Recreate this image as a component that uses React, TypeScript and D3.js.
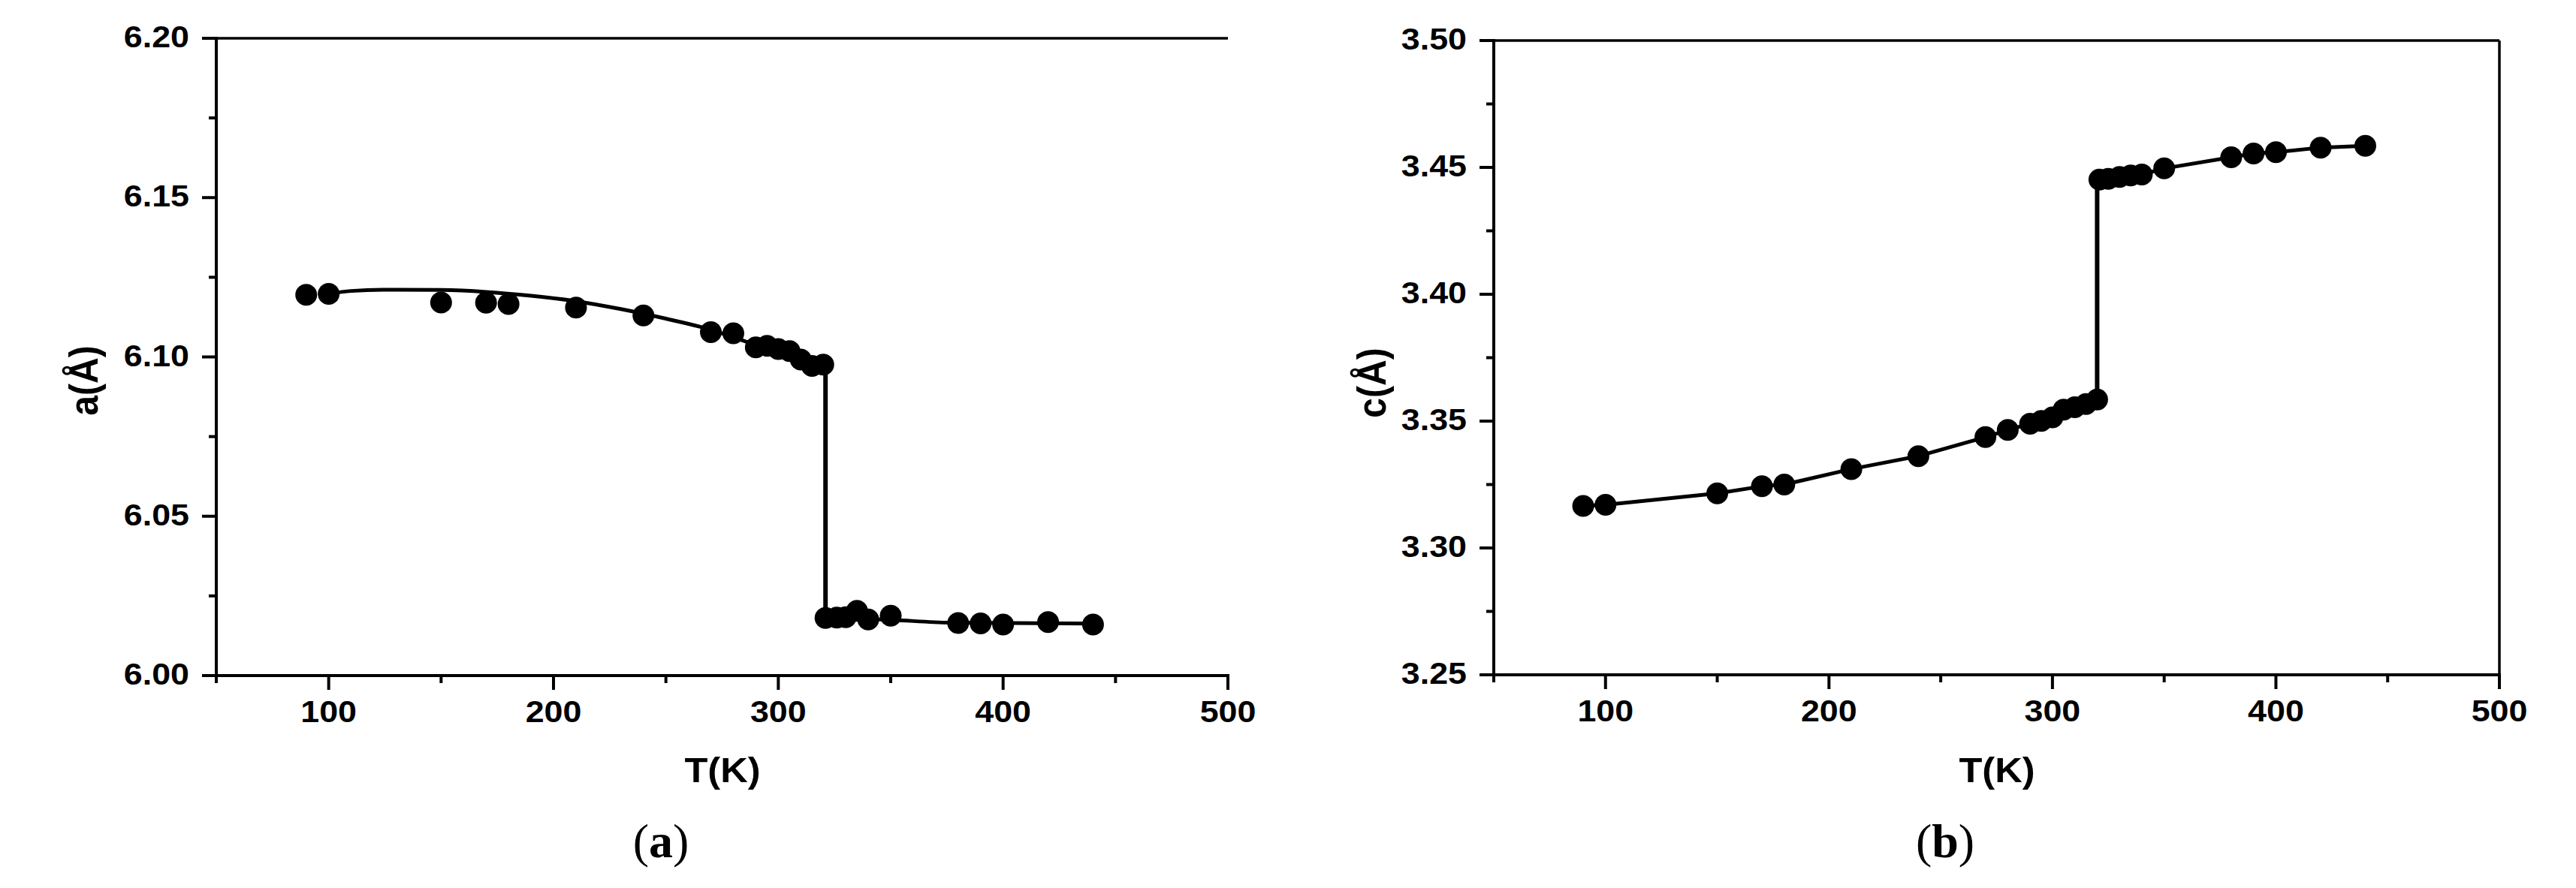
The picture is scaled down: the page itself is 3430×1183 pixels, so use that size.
import React from "react";
import * as d3 from "d3";

const W = 3430;
const H = 1183;

// ---------- shared axis data ----------
const xDomain = [50, 500];
const xTicks = [100, 200, 300, 400, 500];
const xMinorTicks = [50, 150, 250, 350, 450];

// ---------- panel (a): lattice parameter a ----------
const aDomain = [6.0, 6.2];
const aTicks = [6.0, 6.05, 6.1, 6.15, 6.2];
const aMinorTicks = [6.025, 6.075, 6.125, 6.175];
const aLowTempT = [90, 100, 150, 170, 180, 210, 240, 270, 280, 290, 295, 300, 305, 310, 315, 320];
const aLowTempV = [6.1195, 6.1198, 6.1171, 6.1170, 6.1166, 6.1155, 6.1130, 6.1078, 6.1074, 6.1030, 6.1035, 6.1025, 6.1018, 6.0992, 6.0972, 6.0976];
const aHighTempT = [321, 326, 330, 335, 340, 350, 380, 390, 400, 420, 440];
const aHighTempV = [6.0181, 6.0182, 6.0183, 6.0203, 6.0176, 6.0188, 6.0165, 6.0164, 6.0160, 6.0168, 6.0160];
const aFitLowT = [100, 110, 130, 150, 170, 190, 210, 230, 250, 265, 280, 295, 310, 321];
const aFitLowV = [6.1198, 6.1207, 6.1211, 6.1210, 6.1204, 6.1192, 6.1175, 6.1150, 6.1120, 6.1095, 6.1062, 6.1024, 6.0990, 6.0972];
const aFitHighT = [321, 350, 376, 440];
const aFitHighV = [6.0182, 6.0175, 6.0166, 6.0163];

// ---------- panel (b): lattice parameter c ----------
const cDomain = [3.25, 3.5];
const cTicks = [3.25, 3.3, 3.35, 3.4, 3.45, 3.5];
const cMinorTicks = [3.275, 3.325, 3.375, 3.425, 3.475];
const cLowTempT = [90, 100, 150, 170, 180, 210, 240, 270, 280, 290, 295, 300, 305, 310, 315, 320];
const cLowTempV = [3.3166, 3.3170, 3.3215, 3.3243, 3.3250, 3.3311, 3.3362, 3.3437, 3.3465, 3.3490, 3.3501, 3.3515, 3.3545, 3.3555, 3.3567, 3.3585];
const cHighTempT = [321, 325, 330, 335, 340, 350, 380, 390, 400, 420, 440];
const cHighTempV = [3.4452, 3.4455, 3.4462, 3.4468, 3.4472, 3.4496, 3.4540, 3.4555, 3.4560, 3.4578, 3.4585];

const SANS = "'Liberation Sans', Arial, Helvetica, sans-serif";
const SERIF = "'Liberation Serif', 'Times New Roman', serif";
const fmt = d3.format(".2f");

type Line = { t: number[]; v: number[]; curve?: any };

type PanelProps = {
  xRange: [number, number];
  yRange: [number, number];
  yDomain: number[];
  yTicks: number[];
  yMinor: number[];
  yTitle: string;
  yTitleX: number;
  yTitleY: number;
  xTitleX: number;
  label: string;
  labelX: number;
  pointSets: { t: number[]; v: number[] }[];
  lines: Line[];
  jump: { t: number; from: number; to: number };
  rightBorder: boolean;
};

function Panel(p: PanelProps) {
  const x = d3.scaleLinear().domain(xDomain).range(p.xRange);
  const y = d3.scaleLinear().domain(p.yDomain).range(p.yRange);
  const [x0, x1] = p.xRange;
  const [yb, yt] = p.yRange;
  const major = 19;
  const minor = 10;
  const sx = 1.12;

  return (
    <g>
      {/* lines */}
      {p.lines.map((ln, i) => {
        const gen = d3
          .line<number>()
          .x((_, k) => x(ln.t[k]))
          .y((d) => y(d))
          .curve(ln.curve || d3.curveLinear);
        return (
          <path key={"l" + i} d={gen(ln.v) || ""} fill="none" stroke="#000" strokeWidth={5} strokeLinejoin="round" />
        );
      })}
      <line x1={x(p.jump.t)} x2={x(p.jump.t)} y1={y(p.jump.from)} y2={y(p.jump.to)} stroke="#000" strokeWidth={6} />
      {/* markers */}
      {p.pointSets.map((s, i) =>
        s.t.map((t, k) => <circle key={"m" + i + "-" + k} cx={x(t)} cy={y(s.v[k])} r={14.5} fill="#000" />)
      )}
      {/* frame */}
      <line x1={x0} x2={x1} y1={yt} y2={yt} stroke="#000" strokeWidth={3.5} />
      {p.rightBorder && <line x1={x1} x2={x1} y1={yt} y2={yb} stroke="#000" strokeWidth={3.5} />}
      {/* y axis */}
      <line x1={x0} x2={x0} y1={yt - 2} y2={yb + 2} stroke="#000" strokeWidth={4} />
      {p.yTicks.map((v) => (
        <g key={"yt" + v}>
          <line x1={x0 - major} x2={x0} y1={y(v)} y2={y(v)} stroke="#000" strokeWidth={4} />
          <text
            transform={`translate(${x0 - 36},${y(v) + 12}) scale(${sx},1)`}
            textAnchor="end"
            fontFamily={SANS}
            fontWeight="bold"
            fontSize={40}
            fill="#000"
          >
            {fmt(v)}
          </text>
        </g>
      ))}
      {p.yMinor.map((v) => (
        <line key={"ym" + v} x1={x0 - minor} x2={x0} y1={y(v)} y2={y(v)} stroke="#000" strokeWidth={4} />
      ))}
      {/* x axis */}
      <line x1={x0 - 2} x2={x1 + 2} y1={yb} y2={yb} stroke="#000" strokeWidth={4} />
      {xTicks.map((t) => (
        <g key={"xt" + t}>
          <line x1={x(t)} x2={x(t)} y1={yb} y2={yb + major} stroke="#000" strokeWidth={4} />
          <text
            transform={`translate(${x(t)},${yb + 62}) scale(${sx},1)`}
            textAnchor="middle"
            fontFamily={SANS}
            fontWeight="bold"
            fontSize={40}
            fill="#000"
          >
            {t}
          </text>
        </g>
      ))}
      {xMinorTicks.map((t) => (
        <line key={"xm" + t} x1={x(t)} x2={x(t)} y1={yb} y2={yb + minor} stroke="#000" strokeWidth={4} />
      ))}
      {/* titles */}
      <text
        transform={`translate(${p.xTitleX},1042) scale(1.1,1)`}
        textAnchor="middle"
        fontFamily={SANS}
        fontWeight="bold"
        fontSize={46}
        fill="#000"
      >
        T(K)
      </text>
      <text
        transform={`translate(${p.yTitleX},${p.yTitleY}) rotate(-90) scale(1,1.1)`}
        textAnchor="middle"
        dominantBaseline="central"
        fontFamily={SANS}
        fontWeight="bold"
        fontSize={48}
        fill="#000"
      >
        {p.yTitle}
      </text>
      <text x={p.labelX} y={1142} textAnchor="middle" fontFamily={SERIF} fontSize={64} fill="#000">
        (<tspan fontWeight="bold">{p.label}</tspan>)
      </text>
    </g>
  );
}

export default function App() {
  return (
    <svg
      width={W}
      height={H}
      viewBox={`0 0 ${W} ${H}`}
      style={{ position: "absolute", left: 0, top: 0, display: "block", background: "#fff" }}
    >
      <rect x={0} y={0} width={W} height={H} fill="#fff" />
      <Panel
        xRange={[288, 1635]}
        yRange={[900, 51]}
        yDomain={aDomain}
        yTicks={aTicks}
        yMinor={aMinorTicks}
        yTitle="a(Å)"
        yTitleX={112}
        yTitleY={507}
        xTitleX={962}
        label="a"
        labelX={880}
        pointSets={[
          { t: aLowTempT, v: aLowTempV },
          { t: aHighTempT, v: aHighTempV },
        ]}
        lines={[
          { t: aFitLowT, v: aFitLowV, curve: d3.curveMonotoneX },
          { t: aFitHighT, v: aFitHighV, curve: d3.curveMonotoneX },
        ]}
        jump={{ t: 321, from: aFitLowV[aFitLowV.length - 1], to: aFitHighV[0] }}
        rightBorder={false}
      />
      <Panel
        xRange={[1989, 3328]}
        yRange={[899, 54]}
        yDomain={cDomain}
        yTicks={cTicks}
        yMinor={cMinorTicks}
        yTitle="c(Å)"
        yTitleX={1827}
        yTitleY={510}
        xTitleX={2659}
        label="b"
        labelX={2590}
        pointSets={[
          { t: cLowTempT, v: cLowTempV },
          { t: cHighTempT, v: cHighTempV },
        ]}
        lines={[
          { t: cLowTempT, v: cLowTempV },
          { t: cHighTempT, v: cHighTempV },
        ]}
        jump={{ t: 320, from: cLowTempV[cLowTempV.length - 1], to: cHighTempV[0] }}
        rightBorder={true}
      />
    </svg>
  );
}
